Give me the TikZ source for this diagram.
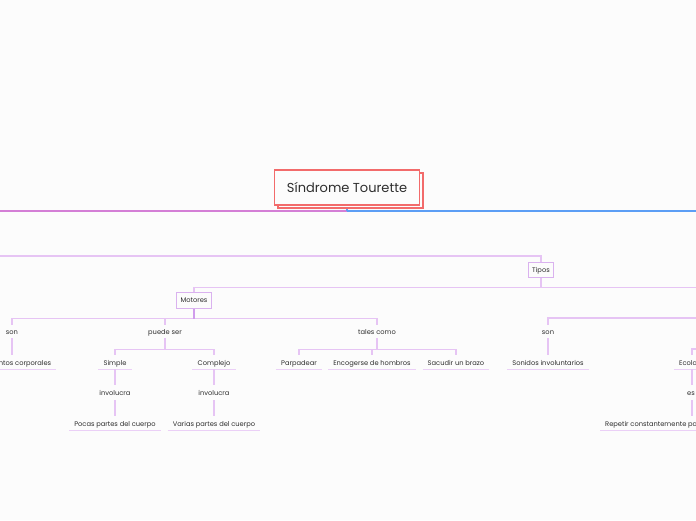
\documentclass[tikz,border=0pt]{standalone}
\usepackage{fontspec}
\setmainfont{Poppins}
\definecolor{bg}{HTML}{FCFCFC}
\definecolor{ink}{HTML}{2E2E2E}
\definecolor{titlec}{HTML}{F26B6B}
\definecolor{magl}{HTML}{D47FD6}
\definecolor{bluel}{HTML}{5C9EF5}
\definecolor{lav}{HTML}{E6C4F4}
\definecolor{lavd}{HTML}{D09CEC}
\definecolor{boxc}{HTML}{DAB2EF}
\definecolor{ulc}{HTML}{EBD0F7}
\begin{document}
\begin{tikzpicture}[x=1pt,y=-1pt,
  conn/.style={draw=lav, line width=1.1pt},
  txt/.style={font=\fontsize{6.7}{8}\selectfont, text=ink, inner sep=0pt, minimum height=13pt, text height=6pt, text depth=0pt},
  leaf/.style={txt, minimum height=14pt, inner xsep=5pt},
  inv/.style={txt, minimum height=15pt},
  tbox/.style={txt, draw=boxc, line width=1pt, fill=bg, minimum height=15pt, inner xsep=4pt, text height=5.2pt},
  ttl/.style={draw=titlec, line width=1.3pt, fill=bg, minimum width=145pt, minimum height=35pt, inner sep=0pt},
  ul/.style={draw=ulc, line width=1.2pt}
]
\useasboundingbox[fill=bg] (0,0) rectangle (696,520);
\clip (0,0) rectangle (696,520);

% off-picture nodes
\coordinate (leftmain) at (-40,260);
\coordinate (rightmain) at (760,260);
\coordinate (tiposparent) at (-60,250);
\coordinate (vocales) at (770,308);
\coordinate (vocales2) at (780,287);
\coordinate (pe2) at (790,340);

% title
\node[ttl] (shadow) at (350.5,190.5) {};
\node[ttl, font=\fontsize{13}{15}\selectfont, text=ink] (title) at (347,187.5) {Síndrome Tourette};
\coordinate (tbus) at (347,211);
\draw[draw=magl, line width=1.8pt] (tbus) -| (leftmain);
\draw[draw=bluel, line width=1.8pt] (tbus) -| (rightmain);
\draw[draw=bluel, line width=1.6pt] (shadow.south -| title.south) -- (tbus);

% level nodes
\node[tbox] (tipos) at (541,269.5) {Tipos};
\node[tbox, minimum height=16pt] (motores) at (194,300) {Motores};

\node[txt] (son1) at (12,331.5) {son};
\node[txt] (puede) at (165,331.5) {puede ser};
\node[txt] (tales) at (377,331.5) {tales como};
\node[txt] (son2) at (548,331.5) {son};

\node[leaf] (mov) at (11,362) {Movimientos corporales};
\node[leaf] (simple) at (115,362) {Simple};
\node[leaf] (complejo) at (214,362) {Complejo};
\node[leaf] (parp) at (299,362) {Parpadear};
\node[leaf] (enc) at (372,362) {Encogerse de hombros};
\node[leaf] (sac) at (456,362) {Sacudir un brazo};
\node[leaf] (sonidos) at (548,362) {Sonidos involuntarios};
\node[leaf] (eco) at (692,362) {Ecolalia};

\node[inv] (inv1) at (115,392.5) {involucra};
\node[inv] (inv2) at (214,392.5) {involucra};
\node[inv] (es) at (691,392.5) {es};

\node[leaf] (pocas) at (115,423) {Pocas partes del cuerpo};
\node[leaf] (varias) at (214,423) {Varias partes del cuerpo};
\node[leaf, anchor=west] (rep) at (600,423) {Repetir constantemente palabras};

\foreach \n in {mov,simple,complejo,parp,enc,sac,sonidos,eco,pocas,varias,rep}
  \draw[ul] (\n.south west) -- (\n.south east);

% connectors
\draw[conn] (tiposparent) -- ++(0,6) -| (tipos.north);
\draw[conn] (tipos.south) -- ++(0,10) -| (motores.north);
\draw[conn] (tipos.south) -- ++(0,10) -| (vocales2);
\draw[conn] (motores.south) -- ++(0,10) -| (son1.north);
\draw[conn] (motores.south) -- ++(0,10) -| (puede.north);
\draw[conn] (motores.south) -- ++(0,10) -| (tales.north);
\draw[draw=lavd, line width=1.1pt] (motores.south) -- ++(0,10);
\draw[conn] (vocales) -- ++(0,10) -| (son2.north);
\draw[conn] (pe2) -- ++(0,9) -| (eco.north);

\draw[conn] (son1.south) -- (son1.south |- mov.north);
\draw[conn] (son2.south) -- (sonidos.north);
\draw[conn] (puede.south) -- ++(0,11) -| (simple.north);
\draw[conn] (puede.south) -- ++(0,11) -| (complejo.north);
\draw[conn] (tales.south) -- ++(0,11) -| (parp.north);
\draw[conn] (tales.south) -- ++(0,11) -| (enc.north);
\draw[conn] (tales.south) -- ++(0,11) -| (sac.north);

\draw[conn] (simple.south) -- (inv1.north);
\draw[conn] (inv1.south) -- (pocas.north);
\draw[conn] (complejo.south) -- (inv2.north);
\draw[conn] (inv2.south) -- (varias.north);
\draw[conn] (eco.south) -- (eco.south |- es.north);
\draw[conn] (es.south -| eco.south) -- (eco.south |- rep.north);
\end{tikzpicture}
\end{document}
